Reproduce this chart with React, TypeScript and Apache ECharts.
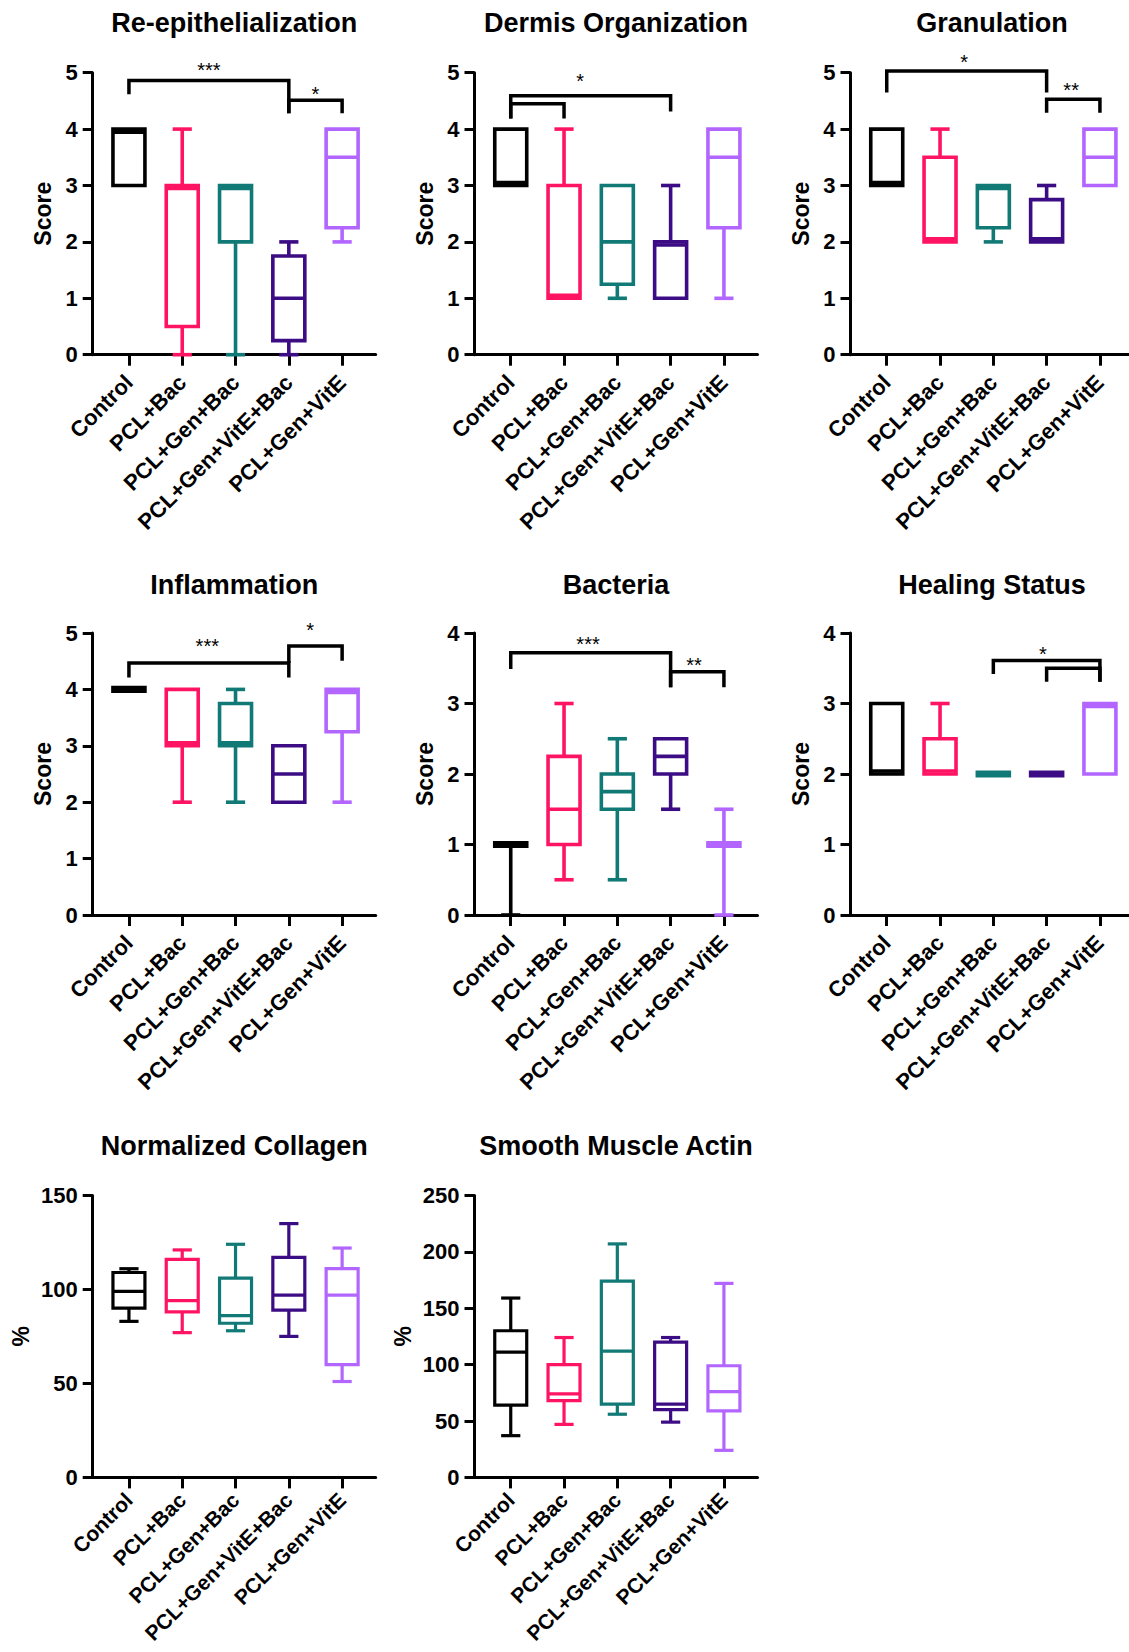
import React, { useEffect, useRef } from 'react';
import * as echarts from 'echarts';

const FONT = "'Liberation Sans', Arial, Helvetica, sans-serif";

const categories = ['Control', 'PCL+Bac', 'PCL+Gen+Bac', 'PCL+Gen+VitE+Bac', 'PCL+Gen+VitE'];
const groupColors = ['#000000', '#ff1464', '#127a76', '#3c0c84', '#b266ff'];

// per group: [min, Q1, median, Q3, max]
const reEpithelialization = [[3, 3, 4, 4, 4], [0, 0.5, 3, 3, 4], [0, 2, 3, 3, 3], [0, 0.25, 1, 1.75, 2], [2, 2.25, 3.5, 4, 4]];
const dermisOrganization = [[3, 3, 3, 4, 4], [1, 1, 1, 3, 4], [1, 1.25, 2, 3, 3], [1, 1, 2, 2, 3], [1, 2.25, 3.5, 4, 4]];
const granulation = [[3, 3, 3, 4, 4], [2, 2, 2, 3.5, 4], [2, 2.25, 3, 3, 3], [2, 2, 2, 2.75, 3], [3, 3, 3.5, 4, 4]];
const inflammation = [[4, 4, 4, 4, 4], [2, 3, 3, 4, 4], [2, 3, 3, 3.75, 4], [2, 2, 2.5, 3, 3], [2, 3.25, 4, 4, 4]];
const bacteria = [[0, 1, 1, 1, 1], [0.5, 1, 1.5, 2.25, 3], [0.5, 1.5, 1.75, 2, 2.5], [1.5, 2, 2.25, 2.5, 2.5], [0, 1, 1, 1, 1.5]];
const healingStatus = [[2, 2, 2, 3, 3], [2, 2, 2, 2.5, 3], [2, 2, 2, 2, 2], [2, 2, 2, 2, 2], [2, 2, 3, 3, 3]];
const normalizedCollagen = [[83, 90, 99, 109, 111], [77, 88, 94, 116, 121], [78, 82, 86, 106, 124], [75, 89, 97, 117, 135], [51, 60, 97, 111, 122]];
const smoothMuscleActin = [[37, 64, 111, 130, 159], [47, 68, 74, 100, 124], [56, 65, 112, 174, 207], [49, 60, 65, 120, 124], [24, 59, 76, 99, 172]];

// significance brackets: [x1, x2, yTop, yLeg1, yLeg2, labelX, labelY]
const reEpiBrackets = [[0, 3, 4.86, 4.62, 4.28, 1.5, 5.13], [3, 4, 4.51, 4.28, 4.28, 3.5, 4.71]];
const reEpiStars = ['***', '*'];
const dermisBrackets = [[0, 3, 4.59, 4.19, 4.31, 1.3, 4.95], [0, 1, 4.45, 4.19, 4.19, 0.5, 4.6]];
const dermisStars = ['*', ''];
const granulationBrackets = [[0, 3, 5.03, 4.65, 4.65, 1.45, 5.27], [3, 4, 4.53, 4.29, 4.29, 3.46, 4.79]];
const granulationStars = ['*', '**'];
const inflammationBrackets = [[0, 3, 4.47, 4.21, 4.21, 1.47, 4.85], [3, 4, 4.77, 4.47, 4.51, 3.4, 5.15]];
const inflammationStars = ['***', '*'];
const bacteriaBrackets = [[0, 3, 3.72, 3.49, 3.23, 1.45, 3.91], [3, 4, 3.45, 3.23, 3.23, 3.44, 3.61]];
const bacteriaStars = ['***', '**'];
const healingBrackets = [[2, 4, 3.61, 3.42, 3.31, 2.93, 3.77], [3, 4, 3.5, 3.31, 3.31, 3.5, 3.6]];
const healingStars = ['*', ''];

const panels = [
  { title: 'Re-epithelialization', data: reEpithelialization, brackets: reEpiBrackets, stars: reEpiStars, yMax: 5, yStep: 1, yName: 'Score' },
  { title: 'Dermis Organization', data: dermisOrganization, brackets: dermisBrackets, stars: dermisStars, yMax: 5, yStep: 1, yName: 'Score' },
  { title: 'Granulation', data: granulation, brackets: granulationBrackets, stars: granulationStars, yMax: 5, yStep: 1, yName: 'Score' },
  { title: 'Inflammation', data: inflammation, brackets: inflammationBrackets, stars: inflammationStars, yMax: 5, yStep: 1, yName: 'Score' },
  { title: 'Bacteria', data: bacteria, brackets: bacteriaBrackets, stars: bacteriaStars, yMax: 4, yStep: 1, yName: 'Score' },
  { title: 'Healing Status', data: healingStatus, brackets: healingBrackets, stars: healingStars, yMax: 4, yStep: 1, yName: 'Score' },
  { title: 'Normalized Collagen', data: normalizedCollagen, brackets: [], stars: [], yMax: 150, yStep: 50, yName: '%' },
  { title: 'Smooth Muscle Actin', data: smoothMuscleActin, brackets: [], stars: [], yMax: 250, yStep: 50, yName: '%' },
];

const colLeft = [92.7, 474.5, 850.5];
const rowTop = [72.7, 633, 1195.4];
const titleY = [23.2, 584.5, 1146];
const GRID_W = 283;
const GRID_H = 282;
const X_MIN = -0.68;
const X_MAX = 4.63;
const BOX_HALF = 0.3;
const CAP_HALF = 0.18;

const makeBoxRender = (lw: number) => (params: any, api: any) => {
  const x = api.value(0);
  const mn = api.value(1), q1 = api.value(2), med = api.value(3), q3 = api.value(4), mx = api.value(5);
  const color = groupColors[params.dataIndex % groupColors.length];
  const cx = api.coord([x, mn])[0];
  const yMin = api.coord([x, mn])[1];
  const yQ1 = api.coord([x, q1])[1];
  const yMed = api.coord([x, med])[1];
  const yQ3 = api.coord([x, q3])[1];
  const yMax = api.coord([x, mx])[1];
  const hw = api.size([BOX_HALF * 2, 0])[0] / 2;
  const cw = api.size([CAP_HALF * 2, 0])[0] / 2;
  const st = { stroke: color, lineWidth: lw, fill: 'none' };
  const children: any[] = [];
  if (mx > q3) {
    children.push({ type: 'line', shape: { x1: cx, y1: yQ3, x2: cx, y2: yMax }, style: st });
    children.push({ type: 'line', shape: { x1: cx - cw, y1: yMax, x2: cx + cw, y2: yMax }, style: st });
  }
  if (mn < q1) {
    children.push({ type: 'line', shape: { x1: cx, y1: yQ1, x2: cx, y2: yMin }, style: st });
    children.push({ type: 'line', shape: { x1: cx - cw, y1: yMin, x2: cx + cw, y2: yMin }, style: st });
  }
  if (q3 > q1) {
    children.push({ type: 'rect', shape: { x: cx - hw, y: yQ3, width: hw * 2, height: yQ1 - yQ3 }, style: st });
    let ym = yMed;
    if (med <= q1) ym = yQ1 - lw * 0.85;
    else if (med >= q3) ym = yQ3 + lw * 0.85;
    children.push({ type: 'line', shape: { x1: cx - hw, y1: ym, x2: cx + hw, y2: ym }, style: st });
  } else {
    children.push({ type: 'rect', shape: { x: cx - hw - lw / 2, y: yQ1 - lw, width: hw * 2 + lw, height: lw * 2 }, style: { fill: color, stroke: 'none' } });
  }
  return { type: 'group', children };
};

const makeBracketRender = (labels: string[]) => (params: any, api: any) => {
  const x1 = api.value(0), x2 = api.value(1), yt = api.value(2), yl1 = api.value(3), yl2 = api.value(4);
  const lx = api.value(5), ly = api.value(6);
  const p1 = api.coord([x1, yl1]);
  const p2 = api.coord([x1, yt]);
  const p3 = api.coord([x2, yt]);
  const p4 = api.coord([x2, yl2]);
  const children: any[] = [
    { type: 'polyline', shape: { points: [p1, p2, p3, p4] }, style: { stroke: '#000', lineWidth: 3.5, fill: 'none', lineJoin: 'miter' } },
  ];
  const label = labels[params.dataIndex];
  if (label) {
    const lp = api.coord([lx, ly]);
    children.push({
      type: 'text', x: lp[0], y: lp[1] + 5,
      style: { text: label, fill: '#000', fontSize: 20, fontFamily: FONT, align: 'center', verticalAlign: 'middle' },
    });
  }
  return { type: 'group', children };
};

function buildOption() {
  const grid: any[] = [];
  const xAxis: any[] = [];
  const yAxis: any[] = [];
  const series: any[] = [];
  const graphic: any[] = [];
  panels.forEach((p, i) => {
    const row = Math.floor(i / 3);
    const col = i % 3;
    const left = colLeft[col];
    const top = rowTop[row];
    const lastRow = row === 2;
    grid.push({ left, top, width: GRID_W, height: GRID_H, containLabel: false, outerBoundsMode: 'none' });
    graphic.push({
      type: 'text', x: left + GRID_W / 2, y: titleY[row],
      style: { text: p.title, fill: '#000', fontSize: 27, fontWeight: 'bold', fontFamily: FONT, align: 'center', verticalAlign: 'middle' },
    });
    xAxis.push({
      type: 'value', gridIndex: i, min: X_MIN, max: X_MAX,
      axisLine: { show: true, onZero: false, lineStyle: { color: '#000', width: 3 } },
      axisTick: { show: true, customValues: [0, 1, 2, 3, 4], length: 11, lineStyle: { color: '#000', width: 3 } },
      axisLabel: {
        customValues: [0, 1, 2, 3, 4], formatter: (v: number) => categories[Math.round(v)] ?? '',
        rotate: 45, margin: lastRow ? 19 : 24, fontSize: lastRow ? 21 : 22, fontWeight: 'bold', color: '#000', fontFamily: FONT,
      },
      splitLine: { show: false },
    });
    const score = p.yName === 'Score';
    yAxis.push({
      type: 'value', gridIndex: i, min: 0, max: p.yMax, interval: p.yStep,
      axisLine: { show: true, onZero: false, lineStyle: { color: '#000', width: 3 } },
      axisTick: { show: true, length: 10, lineStyle: { color: '#000', width: 3 } },
      axisLabel: { margin: 15, fontSize: 22, fontWeight: 'bold', color: '#000', fontFamily: FONT },
      splitLine: { show: false },
      name: p.yName, nameLocation: 'middle', nameGap: score ? 38 : 60,
      nameTextStyle: { fontSize: 23, fontWeight: 'bold', color: '#000', fontFamily: FONT },
    });
    series.push({
      type: 'custom', xAxisIndex: i, yAxisIndex: i, clip: false,
      renderItem: makeBoxRender(score ? 3.6 : 3.2),
      encode: { x: 0, y: [1, 2, 3, 4, 5] },
      data: p.data.map((s, k) => [k, ...s]),
    });
    if (p.brackets.length) {
      series.push({
        type: 'custom', xAxisIndex: i, yAxisIndex: i, clip: false,
        renderItem: makeBracketRender(p.stars),
        encode: { x: [0, 1], y: [2, 3, 4] },
        data: p.brackets,
      });
    }
  });
  return { animation: false, backgroundColor: '#ffffff', textStyle: { fontFamily: FONT }, grid, xAxis, yAxis, series, graphic };
}

export default function App() {
  const ref = useRef<HTMLDivElement>(null);
  useEffect(() => {
    if (!ref.current) return;
    const chart = echarts.init(ref.current, undefined, { renderer: 'svg' });
    chart.setOption(buildOption() as any);
    return () => chart.dispose();
  }, []);
  return <div ref={ref} style={{ position: 'absolute', left: 0, top: 0, width: 1129, height: 1652, background: '#fff' }} />;
}
